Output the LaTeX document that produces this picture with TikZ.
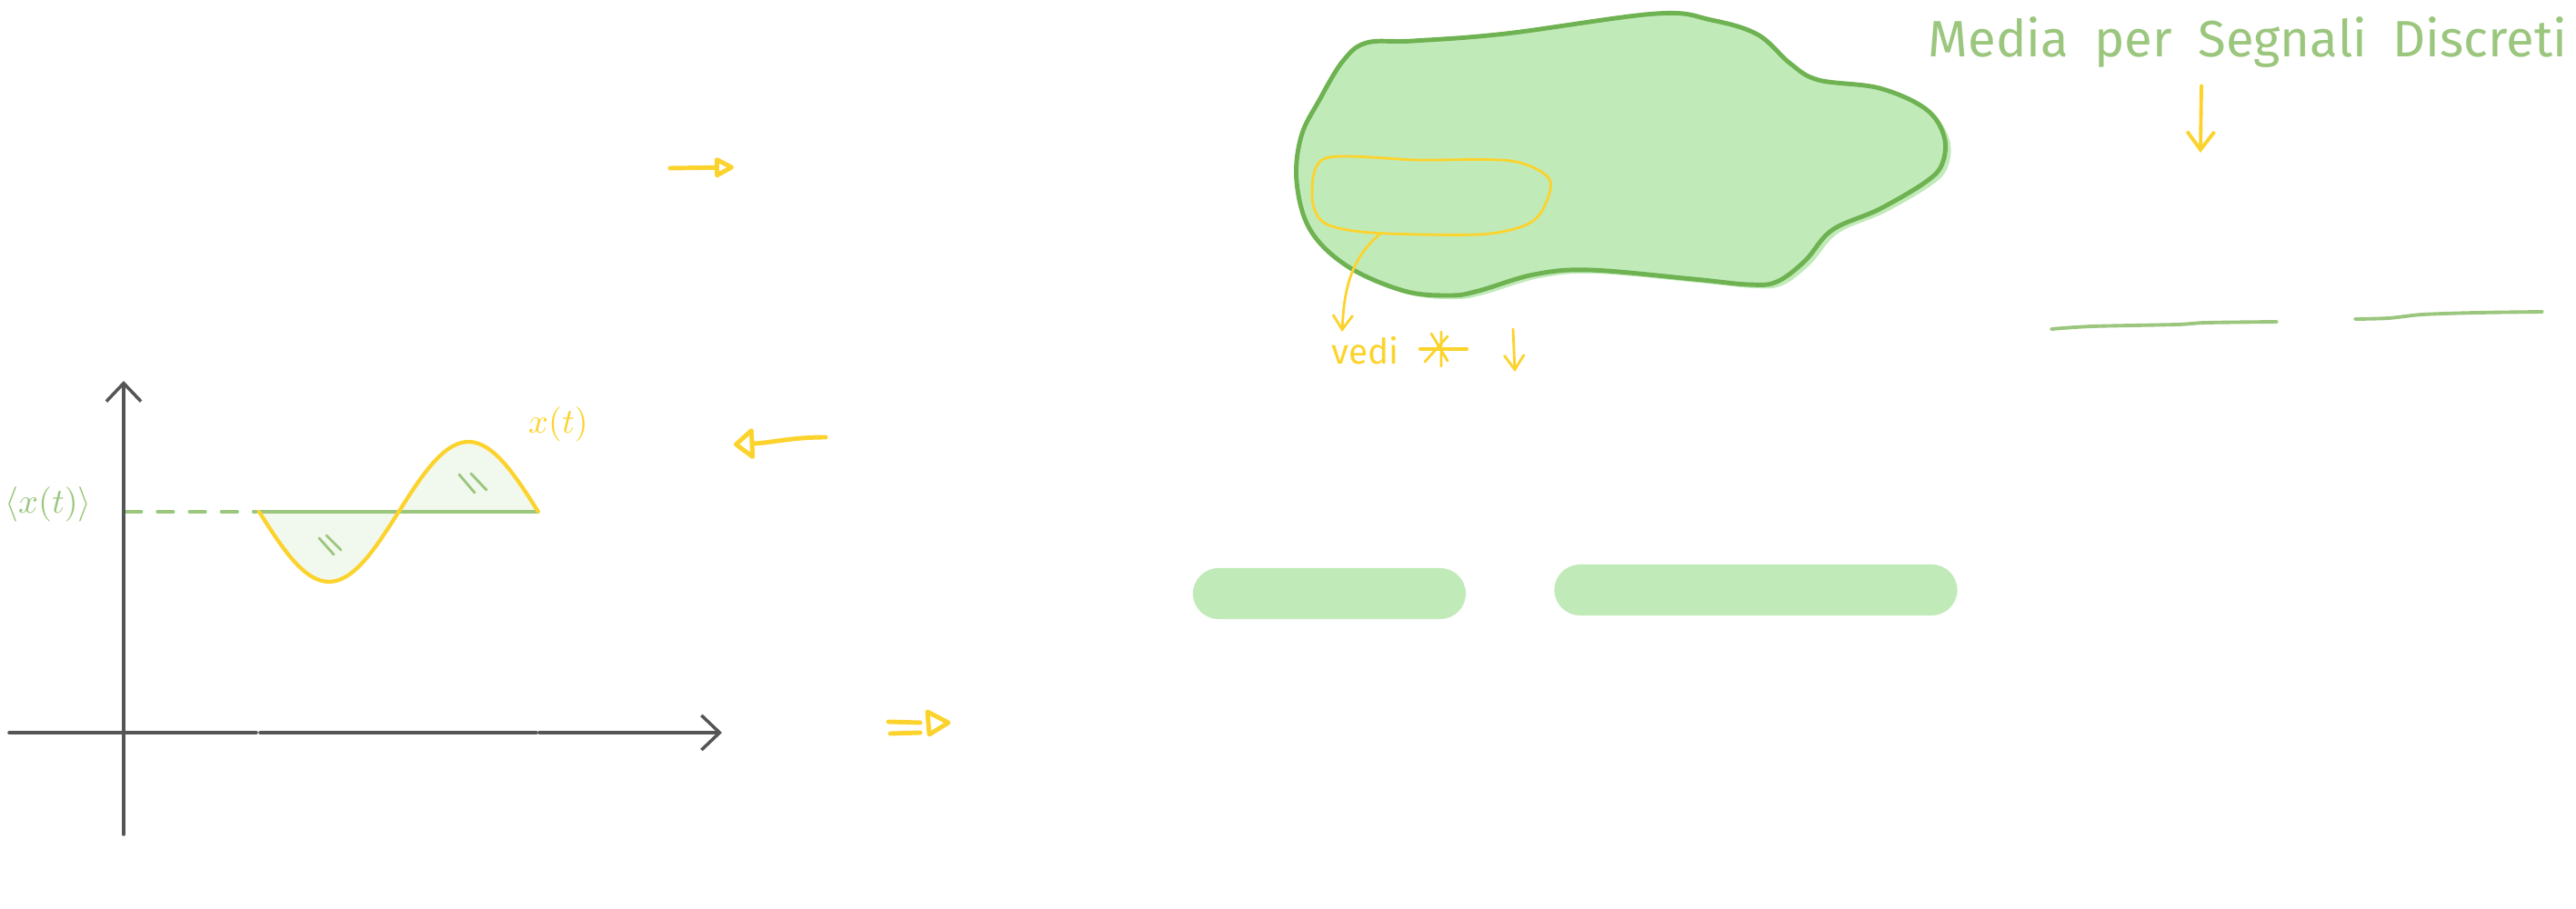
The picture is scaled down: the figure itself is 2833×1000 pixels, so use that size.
\documentclass[tikz,border=0pt]{standalone}
\definecolor{AxisGray}{RGB}{85,85,85}
\definecolor{SketchYellow}{RGB}{252,211,45}
\definecolor{NoteGreen}{RGB}{155,198,125}
\definecolor{BlobGreen}{RGB}{193,234,185}
\definecolor{BlobEdge}{RGB}{110,178,82}
\definecolor{WaveFill}{RGB}{241,248,237}
\usepackage{amsmath, amssymb}
\usepackage{fontspec}
\setmainfont{Fira Sans}
\usepackage{tikz}
\usetikzlibrary{positioning, arrows.meta}

\begin{document}
\begin{tikzpicture}[x=0.01cm, y=-0.01cm, line cap=round, line join=round,
    axis/.style={AxisGray, line width=1pt},
    axisarrow/.style={axis, -{Straight Barb[length=2mm, width=3.8mm]}},
    sketcharrow/.style={SketchYellow, line width=1.4pt, -{Triangle[open, round, length=2.4mm, width=2.4mm]}},
    sketchline/.style={SketchYellow, line width=1.4pt},
    thinarrow/.style={SketchYellow, line width=0.8pt, -{Straight Barb[length=1.6mm, width=2.2mm]}},
    noteline/.style={NoteGreen, line width=1.1pt},
    bar/.style={fill=BlobGreen, rounded corners=8pt, minimum height=0.56cm, inner sep=0pt}]
  \useasboundingbox (0,0) rectangle (2833,1000);

  % signal x(t) and its mean
  \begin{scope}
    \coordinate (origin) at (136,806);
    \fill[WaveFill] plot[domain=0:1, samples=60] ({285+307*\x}, {563+77*sin(360*\x)}) -- cycle;
    \draw[noteline, line width=1pt, dash pattern=on 5pt off 5pt] (138,563) -- (282,563);
    \draw[noteline, line width=1pt] (285,563) -- (592,563);
    \draw[SketchYellow, line width=1.2pt] plot[domain=0:1, samples=60] ({285+307*\x}, {563+77*sin(360*\x)});
    \draw[noteline, line width=0.8pt] (351,592) -- (367,610) (359,589) -- (375,605);
    \draw[noteline, line width=0.8pt] (505,522) -- (522,542) (518,521) -- (535,539);
    \draw[axisarrow] (136,918) -- (136,419);
    \draw[axis] (10,806) -- (282,806);
    \draw[axis] (286,806) -- (590,806);
    \draw[axisarrow] (593,806) -- (794,806);
    \node[text=SketchYellow, font=\fontsize{11}{13}\selectfont] (signal) at (614,467) {$x(t)$};
    \node[text=NoteGreen, font=\fontsize{11}{13}\selectfont] (mean) at (53,555) {$\langle x(t)\rangle$};
  \end{scope}

  % arrows of the notes
  \draw[sketcharrow] (737,185) -- (807,184);
  \draw[sketchline] (977,794) -- (1012,795) (979,807) -- (1012,806);
  \draw[sketchline] (1020,783) -- (1043,795) -- (1022,808) -- cycle;
  \draw[sketcharrow, -{Triangle[open, round, length=2.4mm, width=3.8mm]}] (908,481) .. controls (870,481) and (850,487) .. (807,489);

  % green cloud
  \fill[BlobGreen, shift={(6,4)}] plot[smooth cycle, tension=0.6] coordinates {(1503,47) (1554,45) (1656,37) (1821,15) (1882,22) (1933,38) (1969,70) (2000,88) (2067,97) (2118,120) (2138,150) (2136,180) (2118,200) (2067,230) (2015,253) (1985,287) (1954,310) (1923,313) (1862,307) (1749,297) (1687,302) (1626,320) (1595,325) (1544,320) (1482,293) (1441,253) (1426,200) (1431,150) (1451,110) (1477,67)};
  \draw[BlobEdge, line width=1.4pt, fill=BlobGreen] plot[smooth cycle, tension=0.6] coordinates {(1503,47) (1554,45) (1656,37) (1821,15) (1882,22) (1933,38) (1969,70) (2000,88) (2067,97) (2118,120) (2138,150) (2136,180) (2118,200) (2067,230) (2015,253) (1985,287) (1954,310) (1923,313) (1862,307) (1749,297) (1687,302) (1626,320) (1595,325) (1544,320) (1482,293) (1441,253) (1426,200) (1431,150) (1451,110) (1477,67)};
  \draw[SketchYellow, line width=0.8pt] plot[smooth cycle, tension=0.5] coordinates {(1458,174) (1560,176) (1662,177) (1704,197) (1697,230) (1677,248) (1626,258) (1508,256) (1456,245) (1443,215)};
  \coordinate (boxfoot) at (1517,258);

  % vedi note
  \node[anchor=base west, text=SketchYellow, font=\fontsize{11}{13}\selectfont, inner sep=0pt] (vedi) at (1464,400) {vedi};
  \coordinate (vedihead) at (1476,365);
  \draw[thinarrow] (boxfoot) .. controls (1485,285) and (1478,320) .. (vedihead);
  \coordinate (star) at (1587,384);
  \draw[sketchline, line width=1.2pt] (1562,384) -- (1613,384);
  \draw[sketchline, line width=0.8pt] (1585,365) -- (1585,403) (1567,398) -- (1592,370) (1574,367) -- (1592,397);
  \coordinate (vediarrow) at (1664,362);
  \draw[thinarrow] (vediarrow) -- (1666,409);

  % pills
  \node[bar, minimum width=3cm] (barleft) at (1462,653) {};
  \node[bar, minimum width=4.43cm] (barright) at (1931,649) {};

  % title on the right
  \node[anchor=base west, text=NoteGreen, font=\fontsize{16}{19}\selectfont, inner sep=0pt] (title) at (2120,62) {\spaceskip=0.5em\relax Media per Segnali Discreti};
  \coordinate (titlearrow) at (2421,94);
  \draw[thinarrow, line width=1.1pt, -{Straight Barb[length=2mm, width=3mm]}] (titlearrow) -- (2420,168);
  \draw[noteline] plot[smooth] coordinates {(2256,362) (2301,359) (2394,357) (2426,355) (2504,354)};
  \draw[noteline] plot[smooth] coordinates {(2590,351) (2627,350) (2664,346) (2724,344) (2796,343)};
\end{tikzpicture}
\end{document}
